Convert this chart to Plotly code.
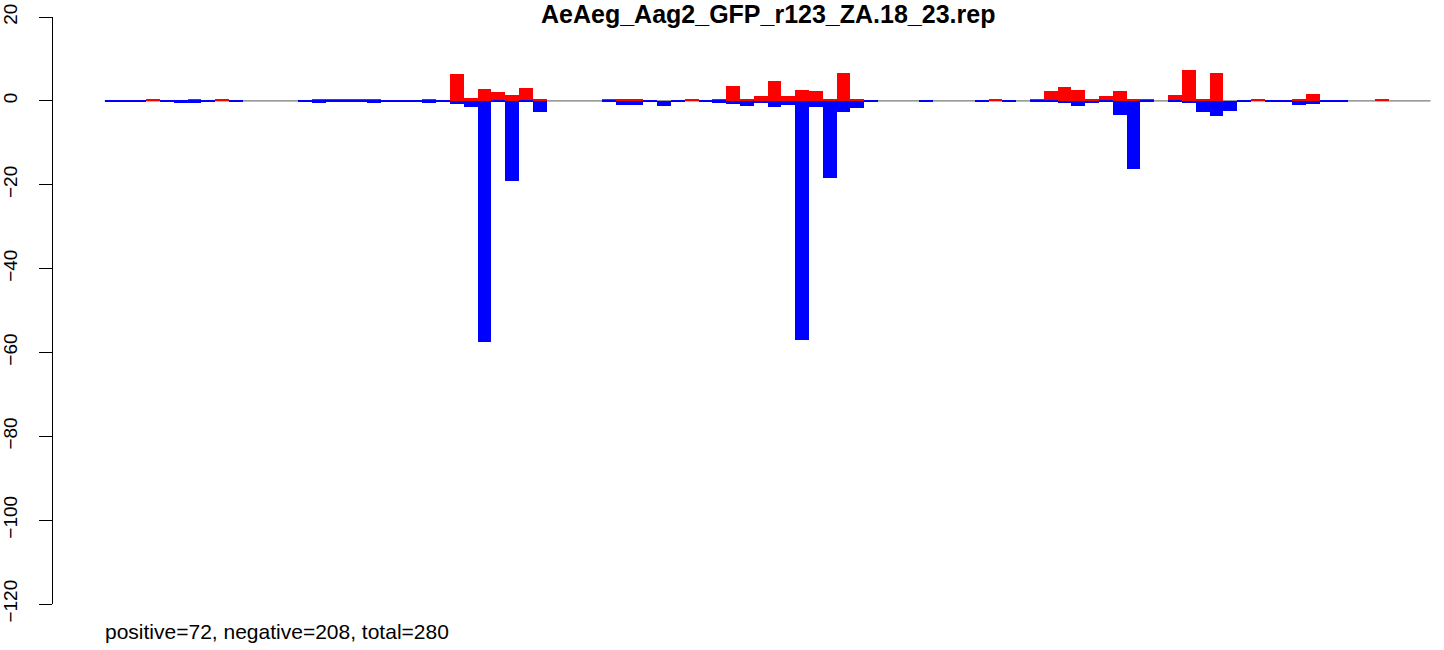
import plotly.graph_objects as go

t = 0.25  # hairline bars

positions = list(range(96))

positive = [
    0, 0, 0, 0.4, 0, 0, t, 0, t, 0,
    0, 0, 0, 0, 0, t, 0.4, 0.4, t, t,
    0, 0, 0, t, 0, 6.3, 0.6, 2.8, 2.1, 1.35,
    3.0, t, 0, 0, 0, 0, 0.4, 0.4, t, 0,
    0, 0, t, 0, t, 3.5, 0.4, 1.1, 4.7, 1.1,
    2.5, 2.3, 0.4, 6.6, t, 0, 0, 0, 0, 0,
    0, 0, 0, 0, t, 0, 0, 0.4, 2.3, 3.25,
    2.5, t, 1.1, 2.3, 0.4, t, 0, 1.35, 7.3, 0.4,
    6.6, 0, 0, t, 0, 0, 0.4, 1.6, 0, 0,
    0, 0, t, 0, 0, 0,
]

negative = [
    -t, -t, -t, 0, -t, -0.4, -0.4, -t, 0, -t,
    0, 0, 0, 0, -t, -0.4, -t, -t, -t, -0.4,
    -t, -t, -t, -0.4, -t, -0.8, -1.4, -57.4, -t, -19.1,
    -t, -2.6, 0, 0, 0, 0, -0.3, -0.9, -0.9, -t,
    -1.2, -t, 0, -t, -0.4, -0.8, -1.3, -0.5, -1.5, -0.9,
    -57.1, -1.4, -18.4, -2.6, -1.7, -t, 0, 0, 0, -t,
    0, 0, 0, -t, 0, -t, 0, -0.3, -t, -0.5,
    -1.2, -0.5, -t, -3.3, -16.2, -0.3, 0, -t, -0.5, -2.6,
    -3.6, -2.4, -t, 0, -t, -t, -0.9, -0.7, -0.3, -t,
    0, 0, 0, 0, 0, 0,
]

y_ticks = [20, 0, -20, -40, -60, -80, -100, -120]
title_text = "AeAeg_Aag2_GFP_r123_ZA.18_23.rep"
summary_text = "positive=72, negative=208, total=280"

# layout geometry (pixels)
W, H = 1444, 650
L, R_, T, B = 50, 0, 17, 46
plot_w = W - L - R_
plot_h = H - T - B
bar_px = 13.84
first_bar_left_px = 101.8
x0 = -0.5 - (first_bar_left_px - L) / bar_px
x1 = x0 + plot_w / bar_px


def py_to_paper(py):
    return (H - B - py) / plot_h


def px_to_paper(px):
    return (px - L) / plot_w


font_family = "Liberation Sans, Arial, Helvetica, sans-serif"

fig = go.Figure()
fig.add_trace(go.Bar(x=positions, y=positive, marker=dict(color="#FF0000", line=dict(width=0)),
                     width=1, showlegend=False, hoverinfo="x+y"))
fig.add_trace(go.Bar(x=positions, y=negative, marker=dict(color="#0000FF", line=dict(width=0)),
                     width=1, showlegend=False, hoverinfo="x+y"))

fig.add_shape(type="line", xref="x", yref="y", x0=-0.5, x1=len(positions) - 0.5, y0=0, y1=0,
              line=dict(color="#7a7a7a", width=1.2), layer="below")

fig.add_annotation(text=f"<b>{title_text}</b>", xref="paper", yref="paper",
                   x=px_to_paper(767), y=py_to_paper(14), xanchor="center", yanchor="middle",
                   showarrow=False, font=dict(family=font_family, size=25, color="black"))
fig.add_annotation(text=summary_text, xref="paper", yref="paper",
                   x=px_to_paper(100), y=py_to_paper(631), xanchor="left", yanchor="middle",
                   showarrow=False, font=dict(family=font_family, size=21, color="black"))

fig.update_layout(
    width=W, height=H,
    margin=dict(l=L, r=R_, t=T, b=B, pad=0),
    paper_bgcolor="white", plot_bgcolor="white",
    barmode="overlay", bargap=0,
    font=dict(family=font_family, size=19, color="black"),
    xaxis=dict(visible=False, range=[x0, x1], fixedrange=True),
    yaxis=dict(range=[-120, 20], tickvals=y_ticks, ticktext=[str(v).replace("-", "\u2212") for v in y_ticks],
               tickangle=-90, ticks="outside", ticklen=13, tickwidth=1, tickcolor="black",
               showline=True, linecolor="black", linewidth=1, showgrid=False, zeroline=False,
               ticklabelstandoff=14, fixedrange=True),
)

fig.write_html("out.html", config={"displayModeBar": False},
               post_script="document.body.style.margin='0';")
